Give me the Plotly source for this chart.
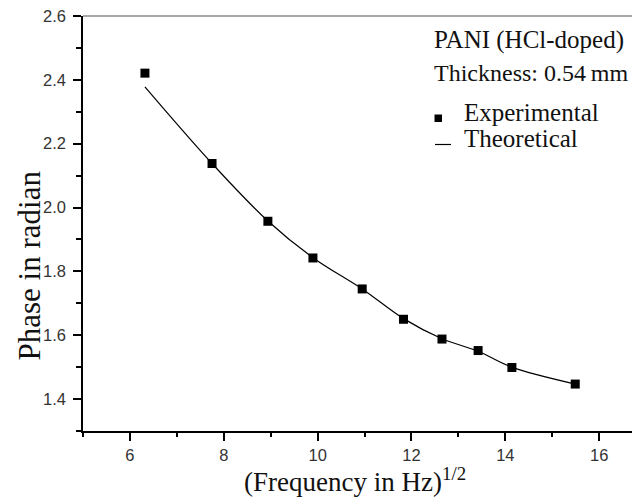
import plotly.graph_objects as go

# Data
freq_sqrt = [6.32, 7.75, 8.94, 9.90, 10.95, 11.83, 12.65, 13.42, 14.14, 15.49]
phase_exp = [2.421, 2.138, 1.957, 1.842, 1.745, 1.650, 1.588, 1.552, 1.499, 1.447]
phase_theo = [2.378, 2.138, 1.958, 1.843, 1.745, 1.652, 1.589, 1.550, 1.500, 1.447]

x_ticks = [6, 8, 10, 12, 14, 16]
y_ticks = [1.4, 1.6, 1.8, 2.0, 2.2, 2.4, 2.6]

serif = "Liberation Serif, Times New Roman, serif"
sans = "Liberation Sans, Arial, sans-serif"

# page body has an 8px margin; figure is sized to fit the window
OFF = 8
W, H = 640 - OFF, 504 - OFF
L, R, T, B = 83 - OFF, 0, 16 - OFF, 504 - 431
PW, PH = W - L - R, H - T - B


def px(xp):
    return (xp - OFF - L) / PW


def py(yp):
    return 1 - (yp - OFF - T) / PH


fig = go.Figure()
fig.add_trace(go.Scatter(
    x=freq_sqrt, y=phase_exp, mode="markers", name="Experimental",
    marker=dict(symbol="square", size=9, color="black", line=dict(width=0)),
))
fig.add_trace(go.Scatter(
    x=freq_sqrt, y=phase_theo, mode="lines", name="Theoretical",
    line=dict(color="black", width=1.2, shape="spline"),
))

text_font = dict(family=serif, size=25, color="#111")

fig.update_layout(
    width=W, height=H,
    margin=dict(l=L, r=R, t=T, b=B, autoexpand=False),
    plot_bgcolor="white", paper_bgcolor="white",
    showlegend=False,
    xaxis=dict(
        range=[5, 16.87], tickvals=x_ticks, ticks="outside", ticklen=8, tickwidth=1.5,
        tickcolor="black", showline=True, linecolor="black", linewidth=1.5,
        showgrid=False, zeroline=False, automargin=False, ticklabeloverflow="allow",
        tickfont=dict(family=sans, size=16.5, color="#333"),
        minor=dict(dtick=1, ticks="outside", ticklen=4, tickwidth=1.5, tickcolor="black", showgrid=False),
    ),
    yaxis=dict(
        range=[1.3, 2.6], tickvals=y_ticks, tickformat=".1f", ticks="outside", ticklen=8, tickwidth=1.5,
        tickcolor="black", showline=True, linecolor="black", linewidth=1.5,
        showgrid=False, zeroline=False, automargin=False, ticklabelstandoff=4,
        ticklabeloverflow="allow",
        tickfont=dict(family=sans, size=16.5, color="#333"),
        minor=dict(dtick=0.1, ticks="outside", ticklen=5, tickwidth=1.5, tickcolor="black", showgrid=False),
    ),
    shapes=[
        # top frame line
        dict(type="line", xref="paper", yref="paper", x0=0, x1=px(638), y0=1, y1=1,
             line=dict(color="#888", width=1.5)),
        # legend symbols
        dict(type="rect", xref="paper", yref="paper",
             x0=px(434.5), x1=px(442), y0=py(114.5), y1=py(122),
             fillcolor="black", line=dict(width=0)),
        dict(type="line", xref="paper", yref="paper",
             x0=px(435), x1=px(451), y0=py(144.5), y1=py(144.5),
             line=dict(color="black", width=1.2)),
    ],
    annotations=[
        dict(text="PANI (HCl-doped)", xref="paper", yref="paper", x=px(432), y=py(40),
             xanchor="left", yanchor="middle", showarrow=False, font=text_font),
        dict(text="Thickness: 0.54\u2009mm", xref="paper", yref="paper", x=px(432), y=py(73),
             xanchor="left", yanchor="middle", showarrow=False,
             font=dict(family=serif, size=24, color="#111")),
        dict(text="Experimental", xref="paper", yref="paper", x=px(462), y=py(112),
             xanchor="left", yanchor="middle", showarrow=False, font=text_font),
        dict(text="Theoretical", xref="paper", yref="paper", x=px(462), y=py(138.5),
             xanchor="left", yanchor="middle", showarrow=False, font=text_font),
        # axis titles
        dict(text="(Frequency in Hz)<sup>1/2</sup>", xref="paper", yref="paper",
             x=px(355), y=py(480), xanchor="center", yanchor="middle", showarrow=False,
             font=dict(family=serif, size=27, color="#111")),
        dict(text="Phase in radian", xref="paper", yref="paper", textangle=-90,
             x=px(28.5), y=py(266), xanchor="center", yanchor="middle", showarrow=False,
             font=dict(family=serif, size=31, color="#111")),
    ],
)

fig.write_html("out.html")
